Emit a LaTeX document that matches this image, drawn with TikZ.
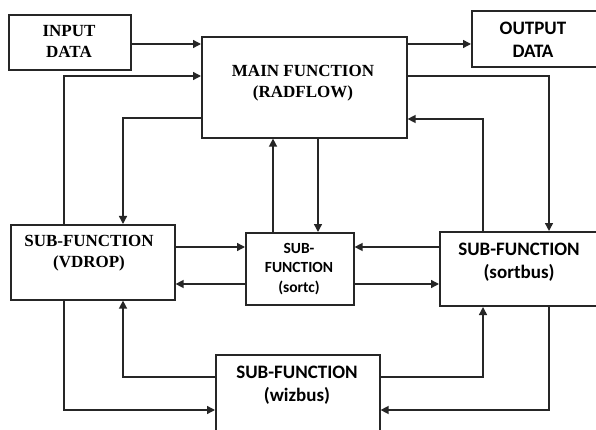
\documentclass[tikz,border=0pt]{standalone}
\usepackage{fontspec}
\newfontfamily\serifface{Liberation Serif}
\newfontfamily\sansface{Carlito}
\usetikzlibrary{arrows.meta}
\begin{document}
\begin{tikzpicture}[x=1pt,y=-1pt,
  box/.style={draw=black!85, line width=1.6pt, rectangle, anchor=north west, inner sep=0pt},
  arr/.style={draw=black!85, line width=1.4pt, -{Triangle[length=8pt,width=8pt]}},
  serlbl/.style={font=\serifface\bfseries\fontsize{17}{21.5}\selectfont, align=center, anchor=north, inner sep=0pt},
  sanlbl/.style={font=\sansface\bfseries\fontsize{19}{23}\selectfont, align=center, anchor=north, inner sep=0pt},
  smlbl/.style={font=\sansface\bfseries\fontsize{15.5}{19.5}\selectfont, align=center, anchor=north, inner sep=0pt}
]
\clip (0,0) rectangle (596,430);
\fill[white] (0,0) rectangle (596,430);

% boxes
\node[box, minimum width=122pt, minimum height=55pt] (inp) at (8,14) {};
\node[box, minimum width=205pt, minimum height=101pt] (main) at (201,36) {};
\node[box, minimum width=135pt, minimum height=56pt] (out) at (471,10) {};
\node[box, minimum width=164pt, minimum height=75pt] (vdrop) at (10,224) {};
\node[box, minimum width=108pt, minimum height=72pt] (sortc) at (245,232) {};
\node[box, minimum width=170pt, minimum height=74pt, line width=2pt] (sortbus) at (439,231) {};
\node[box, minimum width=164pt, minimum height=95pt] (wiz) at (215,354) {};

% labels
\node[serlbl] (inplbl) at (69,25) {INPUT\\DATA};
\node[serlbl] (mainlbl) at (303,65) {MAIN FUNCTION\\(RADFLOW)};
\node[sanlbl] (outlbl) at (533,22) {OUTPUT\\DATA};
\node[serlbl] (vdroplbl) at (89,235) {SUB-FUNCTION\\(VDROP)};
\node[smlbl] (sortclbl) at (299,243) {SUB-\\FUNCTION\\(sortc)};
\node[sanlbl] (sortbuslbl) at (519,243) {SUB-FUNCTION\\(sortbus)};
\node[sanlbl] (wizlbl) at (297,366) {SUB-FUNCTION\\(wizbus)};

% connectors around the main function
\draw[arr] (inp.east |- 0,44) -- (main.west |- 0,44);
\draw[arr] (main.east |- 0,44) -- (out.west |- 0,44);
\draw[arr] (vdrop.north -| 64,0) |- (main.west |- 0,76);
\draw[arr] (main.west |- 0,118) -| (vdrop.north -| 123,0);
\draw[arr] (sortc.north -| 273,0) -- (main.south -| 273,0);
\draw[arr] (main.south -| 318,0) -- (sortc.north -| 318,0);
\draw[arr] (main.east |- 0,76) -| (sortbus.north -| 549,0);
\draw[arr] (sortbus.north -| 483,0) |- (main.east |- 0,119);

% connectors through sortc
\draw[arr] (vdrop.east |- 0,247) -- (sortc.west |- 0,247);
\draw[arr] (sortc.west |- 0,284) -- (vdrop.east |- 0,284);
\draw[arr] (sortbus.west |- 0,247) -- (sortc.east |- 0,247);
\draw[arr] (sortc.east |- 0,284) -- (sortbus.west |- 0,284);

% connectors through wizbus
\draw[arr] (wiz.west |- 0,377) -| (vdrop.south -| 123,0);
\draw[arr] (vdrop.south -| 64,0) |- (wiz.west |- 0,410);
\draw[arr] (wiz.east |- 0,377) -| (sortbus.south -| 483,0);
\draw[arr] (sortbus.south -| 549,0) |- (wiz.east |- 0,410);
\end{tikzpicture}
\end{document}
